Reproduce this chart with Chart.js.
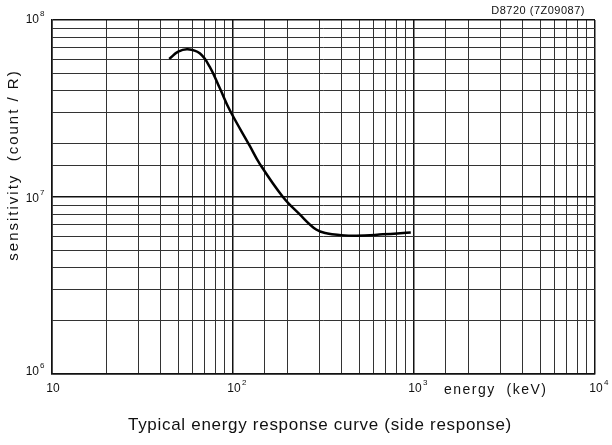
<!DOCTYPE html>
<html>
<head>
<meta charset="utf-8">
<script src="https://cdn.jsdelivr.net/npm/chart.js@4/dist/chart.umd.min.js"></script>
<style>
html,body{margin:0;padding:0;background:#fff;}
#wrap{width:612px;height:445px;position:relative;}
</style>
</head>
<body>
<div id="wrap"><canvas id="c" width="612" height="445"></canvas></div>
<script>
// Data
const energyKeV = [44.4, 49.8, 56.2, 65.5, 74.3, 84.6, 95.9, 123.6, 140, 188.8, 233, 288, 333, 387, 480, 671, 960];
const sensitivity = [6.03e7, 6.62e7, 6.83e7, 6.48e7, 5.45e7, 4.11e7, 3.10e7, 1.95e7, 1.55e7, 1.00e7, 8.0e6, 6.55e6, 6.22e6, 6.10e6, 6.04e6, 6.15e6, 6.31e6];
const xMajorTicks = [10, 100, 1000, 10000];
const xTickExponents = ['', '2', '3', '4'];
const yMajorTicks = [1e6, 1e7, 1e8];
const yTickExponents = ['6', '7', '8'];
const xAxisTitle = 'energy  (keV)';
const yAxisTitle = 'sensitivity  (count / R)';
const chartTitle = 'Typical energy response curve (side response)';
const refCode = 'D8720 (7Z09087)';

const points = energyKeV.map((e, i) => ({x: e, y: sensitivity[i]}));

function isMajor(v) {
  const l = Math.log10(v);
  return Math.abs(l - Math.round(l)) < 1e-9;
}

const FONT = '"Liberation Sans", Arial, sans-serif';

const labelPlugin = {
  id: 'labels',
  afterDraw(chart) {
    const ctx = chart.ctx;
    const xs = chart.scales.x, ys = chart.scales.y;
    ctx.save();
    ctx.fillStyle = '#111';
    // x tick labels
    xMajorTicks.forEach((v, i) => {
      const px = xs.getPixelForValue(v);
      const py = ys.bottom + 15;
      ctx.font = '12px ' + FONT;
      ctx.textAlign = 'center';
      ctx.textBaseline = 'middle';
      ctx.fillText('10', px + 1, py);
      if (xTickExponents[i]) {
        ctx.font = '8px ' + FONT;
        ctx.textAlign = 'left';
        ctx.fillText(xTickExponents[i], px + 9, py - 6);
      }
    });
    // y tick labels
    yMajorTicks.forEach((v, i) => {
      const py = ys.getPixelForValue(v);
      ctx.font = '12px ' + FONT;
      ctx.textAlign = 'right';
      ctx.textBaseline = 'middle';
      const off = i === 0 ? -2 : (i === 1 ? 2 : 0);
      ctx.fillText('10', 39, py + off);
      ctx.font = '8px ' + FONT;
      ctx.textAlign = 'left';
      ctx.fillText(yTickExponents[i], 40, py + off - 6);
    });
    // x axis title
    ctx.font = '14px ' + FONT;
    ctx.letterSpacing = '1.5px';
    ctx.textAlign = 'left';
    ctx.textBaseline = 'middle';
    ctx.fillText(xAxisTitle, 444, ys.bottom + 16);
    // y axis title
    ctx.save();
    ctx.translate(14, 165);
    ctx.rotate(-Math.PI / 2);
    ctx.textAlign = 'center';
    ctx.textBaseline = 'middle';
    ctx.font = '15px ' + FONT;
    ctx.letterSpacing = '2px';
    ctx.fillText(yAxisTitle, 0, 0);
    ctx.restore();
    // chart title
    ctx.font = '17px ' + FONT;
    ctx.letterSpacing = '0.7px';
    ctx.textAlign = 'center';
    ctx.textBaseline = 'middle';
    ctx.fillText(chartTitle, 320, 425);
    // reference code
    ctx.font = '11px ' + FONT;
    ctx.letterSpacing = '0.5px';
    ctx.textAlign = 'right';
    ctx.fillText(refCode, 585, 11);
    ctx.restore();
  }
};

new Chart(document.getElementById('c'), {
  type: 'line',
  data: {
    datasets: [{
      data: points,
      borderColor: '#000',
      borderWidth: 2.5,
      pointRadius: 0,
      fill: false,
      tension: 0.4
    }]
  },
  options: {
    responsive: false,
    animation: false,
    layout: {padding: {left: 52, right: 17, top: 20, bottom: 71}},
    plugins: {legend: {display: false}, tooltip: {enabled: false}},
    scales: {
      x: {
        type: 'logarithmic',
        min: 10, max: 10000,
        ticks: {display: false},
        border: {display: true, color: '#111', width: 1.5},
        grid: {
          drawTicks: false,
          color: (c) => isMajor(c.tick.value) ? '#111' : '#333',
          lineWidth: (c) => isMajor(c.tick.value) ? 1.5 : 1
        }
      },
      y: {
        type: 'logarithmic',
        min: 1e6, max: 1e8,
        ticks: {display: false},
        border: {display: true, color: '#111', width: 1.5},
        grid: {
          drawTicks: false,
          color: (c) => isMajor(c.tick.value) ? '#111' : '#333',
          lineWidth: (c) => isMajor(c.tick.value) ? 1.5 : 1
        }
      }
    }
  },
  plugins: [labelPlugin]
});
</script>
</body>
</html>
